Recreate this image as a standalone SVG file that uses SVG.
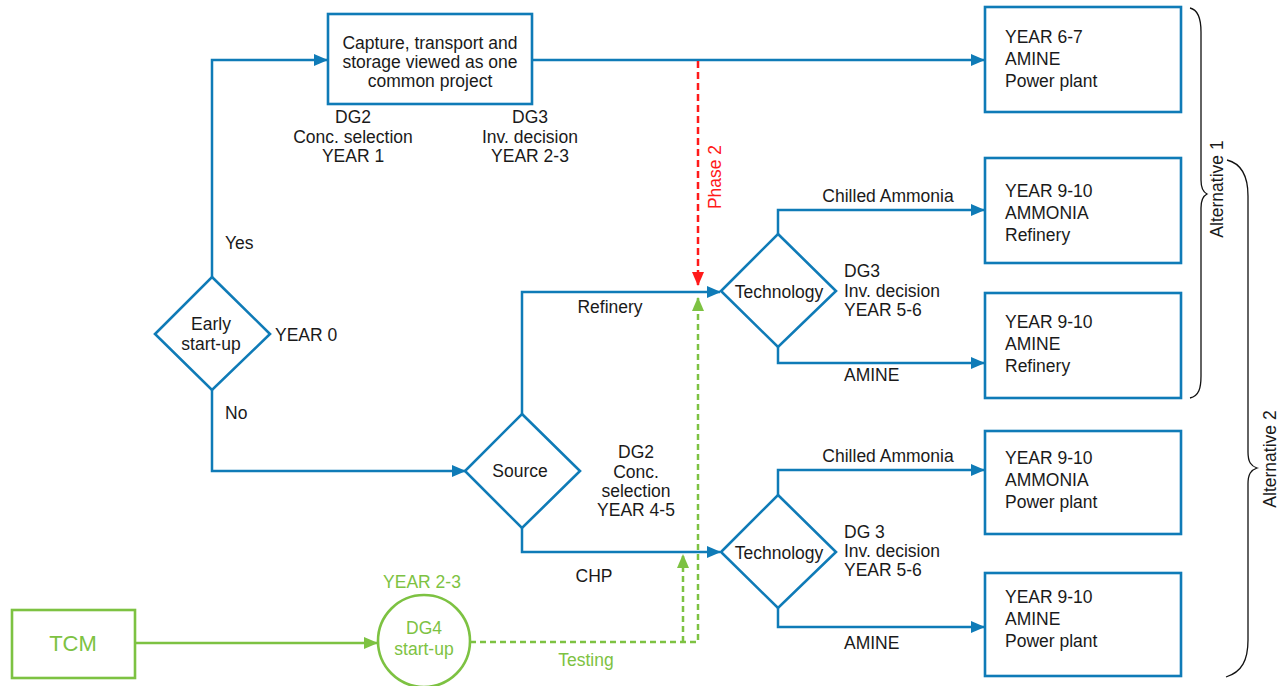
<svg xmlns="http://www.w3.org/2000/svg" width="1284" height="686" viewBox="0 0 1284 686">
<style>
text{font-family:"Liberation Sans",Arial,sans-serif;font-size:17.5px;fill:#1a1a1a}
.c{text-anchor:middle}
.g{fill:#7dc242}
.r{fill:#ff1a1a}
.box{fill:#fff;stroke:#0f7bb7;stroke-width:2.6}
.gbox{fill:#fff;stroke:#7dc242;stroke-width:2.6}
.bl{fill:none;stroke:#0f7bb7;stroke-width:2.5}
.gl{fill:none;stroke:#7dc242;stroke-width:2.5}
.gd{fill:none;stroke:#7dc242;stroke-width:2.5;stroke-dasharray:6 4}
.rd{fill:none;stroke:#ff1a1a;stroke-width:2.5;stroke-dasharray:7 4}
.br{fill:none;stroke:#111;stroke-width:1.3}
</style>
<defs>
<marker id="ab" markerWidth="14" markerHeight="12" refX="13" refY="6" orient="auto" markerUnits="userSpaceOnUse"><path d="M0,0 L14,6 L0,12 Z" fill="#0f7bb7"/></marker>
<marker id="ag" markerWidth="14" markerHeight="12" refX="13" refY="6" orient="auto" markerUnits="userSpaceOnUse"><path d="M0,0 L14,6 L0,12 Z" fill="#7dc242"/></marker>
<marker id="ar" markerWidth="14" markerHeight="12" refX="13" refY="6" orient="auto" markerUnits="userSpaceOnUse"><path d="M0,0 L14,6 L0,12 Z" fill="#ff1a1a"/></marker>
</defs>

<g id="connectors">
<path class="bl" d="M212,277 V60 H327" marker-end="url(#ab)"/>
<path class="bl" d="M532,60 H984" marker-end="url(#ab)"/>
<path class="bl" d="M212,390 V471 H465" marker-end="url(#ab)"/>
<path class="bl" d="M522,414 V292 H720" marker-end="url(#ab)"/>
<path class="bl" d="M522,528 V552 H720" marker-end="url(#ab)"/>
<path class="bl" d="M778,234 V210 H984" marker-end="url(#ab)"/>
<path class="bl" d="M778,347 V363 H984" marker-end="url(#ab)"/>
<path class="bl" d="M778,495 V470 H984" marker-end="url(#ab)"/>
<path class="bl" d="M778,608 V627 H984" marker-end="url(#ab)"/>
<path class="rd" d="M698,61 V285" marker-end="url(#ar)"/>
<path class="gl" d="M135,643 H377" marker-end="url(#ag)"/>
<path class="gd" d="M470,642 H698 V298" marker-end="url(#ag)"/>
<path class="gd" d="M683,642 V555" marker-end="url(#ag)"/>
</g>

<g id="project">
<rect class="box" x="328" y="14" width="204" height="90"/>
<text class="c" x="430" y="49">Capture, transport and</text>
<text class="c" x="430" y="68">storage viewed as one</text>
<text class="c" x="430" y="87">common project</text>
</g>
<g id="dg2-label">
<text class="c" x="353" y="123">DG2</text>
<text class="c" x="353" y="143">Conc. selection</text>
<text class="c" x="353" y="162">YEAR 1</text>
</g>
<g id="dg3-label">
<text class="c" x="530" y="123">DG3</text>
<text class="c" x="530" y="143">Inv. decision</text>
<text class="c" x="530" y="162">YEAR 2-3</text>
</g>

<g id="early">
<polygon class="box" points="212,277 270,334 212,390 155,334"/>
<text class="c" x="211" y="330">Early</text>
<text class="c" x="211" y="350">start-up</text>
<text x="275" y="341">YEAR 0</text>
<text x="225" y="249">Yes</text>
<text x="225" y="419">No</text>
</g>

<g id="source">
<polygon class="box" points="522,414 580,471 522,528 465,471"/>
<text class="c" x="520" y="477">Source</text>
<text class="c" x="610" y="313">Refinery</text>
<text class="c" x="594" y="582">CHP</text>
<text class="c" x="636" y="458">DG2</text>
<text class="c" x="636" y="478">Conc.</text>
<text class="c" x="636" y="497">selection</text>
<text class="c" x="636" y="516">YEAR 4-5</text>
</g>

<g id="tech1">
<polygon class="box" points="778,234 836,291 778,347 721,291"/>
<text class="c" x="779" y="298">Technology</text>
<text x="844" y="277">DG3</text>
<text x="844" y="297">Inv. decision</text>
<text x="844" y="316">YEAR 5-6</text>
<text class="c" x="888" y="202">Chilled Ammonia</text>
<text x="844" y="381">AMINE</text>
</g>

<g id="tech2">
<polygon class="box" points="778,495 836,552 778,608 721,552"/>
<text class="c" x="779" y="559">Technology</text>
<text x="844" y="538">DG 3</text>
<text x="844" y="557">Inv. decision</text>
<text x="844" y="576">YEAR 5-6</text>
<text class="c" x="888" y="462">Chilled Ammonia</text>
<text x="844" y="649">AMINE</text>
</g>

<g id="phase2">
<text class="r c" transform="translate(721,177) rotate(-90)">Phase 2</text>
</g>

<g id="box1">
<rect class="box" x="985" y="7" width="196" height="105"/>
<text x="1005" y="43">YEAR 6-7</text>
<text x="1005" y="65">AMINE</text>
<text x="1005" y="87">Power plant</text>
</g>
<g id="box2">
<rect class="box" x="985" y="158" width="196" height="105"/>
<text x="1005" y="197">YEAR 9-10</text>
<text x="1005" y="219">AMMONIA</text>
<text x="1005" y="241">Refinery</text>
</g>
<g id="box3">
<rect class="box" x="985" y="293" width="196" height="105"/>
<text x="1005" y="328">YEAR 9-10</text>
<text x="1005" y="350">AMINE</text>
<text x="1005" y="372">Refinery</text>
</g>
<g id="box4">
<rect class="box" x="985" y="431" width="196" height="103"/>
<text x="1005" y="464">YEAR 9-10</text>
<text x="1005" y="486">AMMONIA</text>
<text x="1005" y="508">Power plant</text>
</g>
<g id="box5">
<rect class="box" x="985" y="573" width="196" height="103"/>
<text x="1005" y="603">YEAR 9-10</text>
<text x="1005" y="625">AMINE</text>
<text x="1005" y="647">Power plant</text>
</g>

<g id="alt1">
<path class="br" d="M1190,8 C1199,10 1201,20 1201,32 L1201,180 C1201,188 1203,192 1207,194 C1203,196 1201,200 1201,208 L1201,376 C1201,388 1199,396 1190,398"/>
<text class="c" transform="translate(1223,189) rotate(-90)">Alternative 1</text>
</g>
<g id="alt2">
<path class="br" d="M1227,160 C1243,164 1248,178 1248,196 L1248,452 C1248,462 1251,466 1257,468 C1251,470 1248,474 1248,484 L1248,640 C1248,660 1242,672 1226,677"/>
<text class="c" transform="translate(1276,459) rotate(-90)">Alternative 2</text>
</g>

<g id="tcm">
<rect class="gbox" x="12" y="610" width="123" height="68"/>
<text class="g c" x="73" y="651" style="font-size:22px">TCM</text>
</g>
<g id="dg4">
<ellipse class="gbox" cx="424" cy="641" rx="46" ry="46"/>
<text class="g c" x="424" y="634">DG4</text>
<text class="g c" x="424" y="655">start-up</text>
<text class="g c" x="422" y="588">YEAR 2-3</text>
<text class="g c" x="586" y="666">Testing</text>
</g>
</svg>
